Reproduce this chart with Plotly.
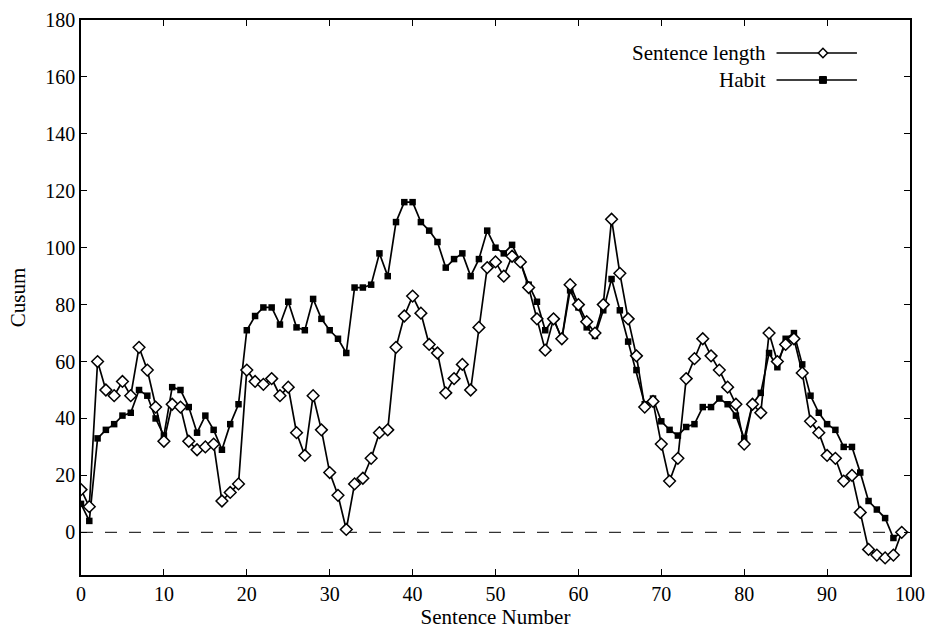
import plotly.graph_objects as go

x_vals = list(range(100))

sentence_length = [15, 9, 60, 50, 48, 53, 48, 65, 57, 44,
                   32, 45, 44, 32, 29, 30, 31, 11, 14, 17,
                   57, 53, 52, 54, 48, 51, 35, 27, 48, 36,
                   21, 13, 1, 17, 19, 26, 35, 36, 65, 76,
                   83, 77, 66, 63, 49, 54, 59, 50, 72, 93,
                   95, 90, 97, 95, 86, 75, 64, 75, 68, 87,
                   80, 74, 70, 80, 110, 91, 75, 62, 44, 46,
                   31, 18, 26, 54, 61, 68, 62, 57, 51, 45,
                   31, 45, 42, 70, 60, 66, 68, 56, 39, 35,
                   27, 26, 18, 20, 7, -6, -8, -9, -8, 0]

habit = [10, 4, 33, 36, 38, 41, 42, 50, 48, 40,
         34, 51, 50, 44, 35, 41, 36, 29, 38, 45,
         71, 76, 79, 79, 73, 81, 72, 71, 82, 75,
         71, 68, 63, 86, 86, 87, 98, 90, 109, 116,
         116, 109, 106, 102, 93, 96, 98, 90, 96, 106,
         100, 98, 101, 95, 87, 81, 71, 75, 68, 85,
         79, 72, 69, 78, 89, 78, 67, 57, 45, 47,
         39, 36, 34, 37, 38, 44, 44, 47, 45, 41,
         33, 45, 49, 63, 58, 68, 70, 59, 48, 42,
         38, 36, 30, 30, 21, 11, 8, 5, -2, 0]

x_ticks = list(range(0, 101, 10))
y_ticks = list(range(0, 181, 20))

FONT = "Liberation Serif, Times New Roman, serif"

fig = go.Figure()

fig.add_trace(go.Scatter(
    x=x_vals, y=habit, mode="lines+markers", name="Habit",
    line=dict(color="black", width=1.7),
    marker=dict(symbol="square", size=6.5, color="black"),
    showlegend=False,
))
fig.add_trace(go.Scatter(
    x=x_vals, y=sentence_length, mode="lines+markers", name="Sentence length",
    line=dict(color="black", width=1.7),
    marker=dict(symbol="diamond", size=9, color="white",
                line=dict(color="black", width=1.5)),
    showlegend=False,
))

shapes = []
# zero reference dashed line
shapes.append(dict(type="line", xref="x", yref="y", x0=0, x1=100, y0=0, y1=0,
                   line=dict(color="black", width=1, dash="12px,12px"), layer="below"))

# custom legend (text left, sample right), in paper coords
leg_x0, leg_x1, leg_xm = 0.839, 0.936, 0.895
leg_rows = [0.9405, 0.892]
for yy in leg_rows:
    shapes.append(dict(type="line", xref="paper", yref="paper",
                       x0=leg_x0, x1=leg_x1, y0=yy, y1=yy,
                       line=dict(color="black", width=1.4)))
# diamond sample
dx, dy = 0.0056, 0.0085
y0 = leg_rows[0]
shapes.append(dict(type="path", xref="paper", yref="paper",
                   path=f"M {leg_xm-dx} {y0} L {leg_xm} {y0+dy} L {leg_xm+dx} {y0} L {leg_xm} {y0-dy} Z",
                   fillcolor="white", line=dict(color="black", width=1.5)))
# square sample
sx, sy = 0.0042, 0.0062
y1 = leg_rows[1]
shapes.append(dict(type="rect", xref="paper", yref="paper",
                   x0=leg_xm-sx, x1=leg_xm+sx, y0=y1-sy, y1=y1+sy,
                   fillcolor="black", line=dict(color="black", width=1)))

annotations = [
    dict(text="Sentence length", xref="paper", yref="paper", x=0.829, y=leg_rows[0],
         xanchor="right", yanchor="middle", showarrow=False,
         font=dict(family=FONT, size=21, color="black")),
    dict(text="Habit", xref="paper", yref="paper", x=0.829, y=leg_rows[1],
         xanchor="right", yanchor="middle", showarrow=False,
         font=dict(family=FONT, size=21, color="black")),
]

fig.update_layout(
    width=931, height=629,
    margin=dict(l=81, r=21, t=20, b=54),
    paper_bgcolor="white", plot_bgcolor="white",
    font=dict(family=FONT, size=20, color="black"),
    shapes=shapes, annotations=annotations,
    showlegend=False,
)

fig.update_xaxes(
    range=[0, 100], tickvals=x_ticks, ticktext=[str(v) for v in x_ticks],
    showgrid=False, zeroline=False, showline=True, linecolor="black", linewidth=1.5,
    mirror="ticks", ticks="inside", ticklen=6, tickcolor="black", automargin=False,
    title=dict(text="Sentence Number", standoff=6,
               font=dict(family=FONT, size=21, color="black")),
    tickfont=dict(family=FONT, size=20, color="black"),
)
fig.update_yaxes(
    range=[-15, 180], tickvals=y_ticks, ticktext=[str(v) for v in y_ticks],
    showgrid=False, zeroline=False, showline=True, linecolor="black", linewidth=1.5,
    mirror="ticks", ticks="inside", ticklen=6, tickcolor="black", automargin=False,
    title=dict(text="Cusum", standoff=14, font=dict(family=FONT, size=21, color="black")),
    tickfont=dict(family=FONT, size=20, color="black"),
)

fig.write_html("out.html")
